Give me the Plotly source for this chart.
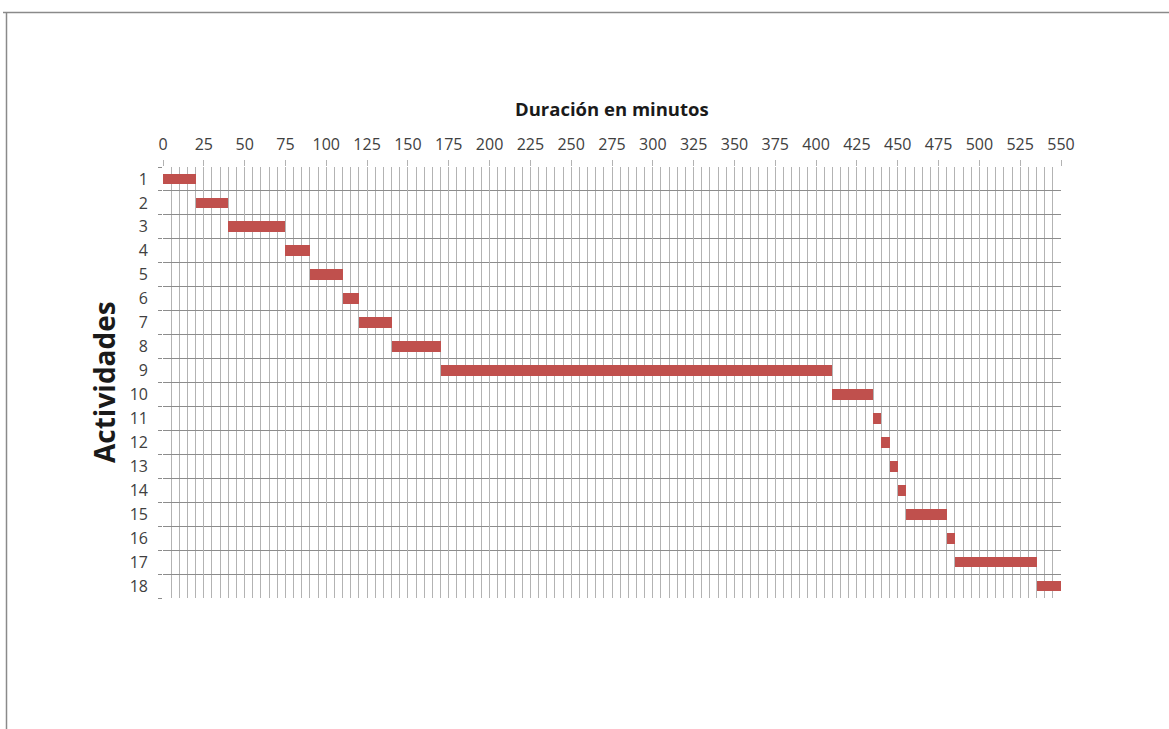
import plotly.graph_objects as go

# Activities and their schedule (minutes)
actividades = list(range(1, 19))
inicio = [0, 20, 40, 75, 90, 110, 120, 140, 170, 410, 435, 440, 445, 450, 455, 480, 485, 535]
duracion = [20, 20, 35, 15, 20, 10, 20, 30, 240, 25, 5, 5, 5, 5, 25, 5, 50, 15]
x_ticks = list(range(0, 551, 25))

W, H = 1169, 729
L, R, T, B = 163, 108, 167, 131
pw, ph = W - L - R, H - T - B


def px(xp):
    return (xp - L) / pw


def py(yp):
    return (H - B - yp) / ph


fig = go.Figure()
fig.add_trace(go.Bar(
    y=actividades,
    x=duracion,
    base=inicio,
    orientation="h",
    width=0.45,
    marker=dict(color="#c0504d", line=dict(width=0)),
    hovertemplate="Actividad %{y}: %{base} – %{x} min<extra></extra>",
))

grid_v = "#b3b3b3"
grid_h = "#8c8c8c"
tick_font = dict(family="Open Sans, DejaVu Sans, sans-serif", size=16, color="#404040")

fig.update_layout(
    width=W, height=H,
    margin=dict(l=L, r=R, t=T, b=B, pad=0),
    paper_bgcolor="white",
    plot_bgcolor="white",
    showlegend=False,
    bargap=0,
    xaxis=dict(
        side="top",
        range=[0, 550],
        tickvals=x_ticks,
        ticktext=[str(v) for v in x_ticks],
        ticks="outside",
        ticklen=6,
        tickcolor=grid_v,
        tickfont=tick_font,
        ticklabelstandoff=4,
        showgrid=True,
        gridcolor=grid_v,
        gridwidth=1,
        zeroline=False,
        showline=False,
        minor=dict(dtick=5, tick0=0, showgrid=True, gridcolor=grid_v, gridwidth=1, ticks=""),
        fixedrange=True,
    ),
    yaxis=dict(
        range=[18.5, 0.5],
        tickvals=actividades,
        ticktext=[str(v) for v in actividades],
        ticks="",
        tickfont=tick_font,
        showgrid=False,
        zeroline=False,
        showline=False,
        ticklabelstandoff=14,
        minor=dict(tickvals=[i + 0.5 for i in range(0, 19)], showgrid=True,
                   gridcolor=grid_h, gridwidth=1, ticks="outside", ticklen=4,
                   tickcolor=grid_h),
        fixedrange=True,
    ),
    annotations=[
        dict(text="<b>Duración en minutos</b>", xref="paper", yref="paper",
             x=0.5, y=py(108), xanchor="center", yanchor="middle", showarrow=False,
             font=dict(family="Open Sans, DejaVu Sans, sans-serif", size=18.5, color="#1a1a1a")),
        dict(text="<b>Actividades</b>", xref="paper", yref="paper",
             x=px(104), y=py(382), xanchor="center", yanchor="middle", showarrow=False,
             textangle=-90,
             font=dict(family="Open Sans, DejaVu Sans, sans-serif", size=28, color="#1a1a1a")),
    ],
    shapes=[
        dict(type="line", xref="paper", yref="paper", x0=px(3), x1=px(W), y0=py(12.5), y1=py(12.5),
             line=dict(color="#8a8a8a", width=1.5)),
        dict(type="line", xref="paper", yref="paper", x0=px(6.5), x1=px(6.5), y0=py(12.5), y1=py(H),
             line=dict(color="#8a8a8a", width=1.5)),
    ],
)

fig.write_html("out.html")
